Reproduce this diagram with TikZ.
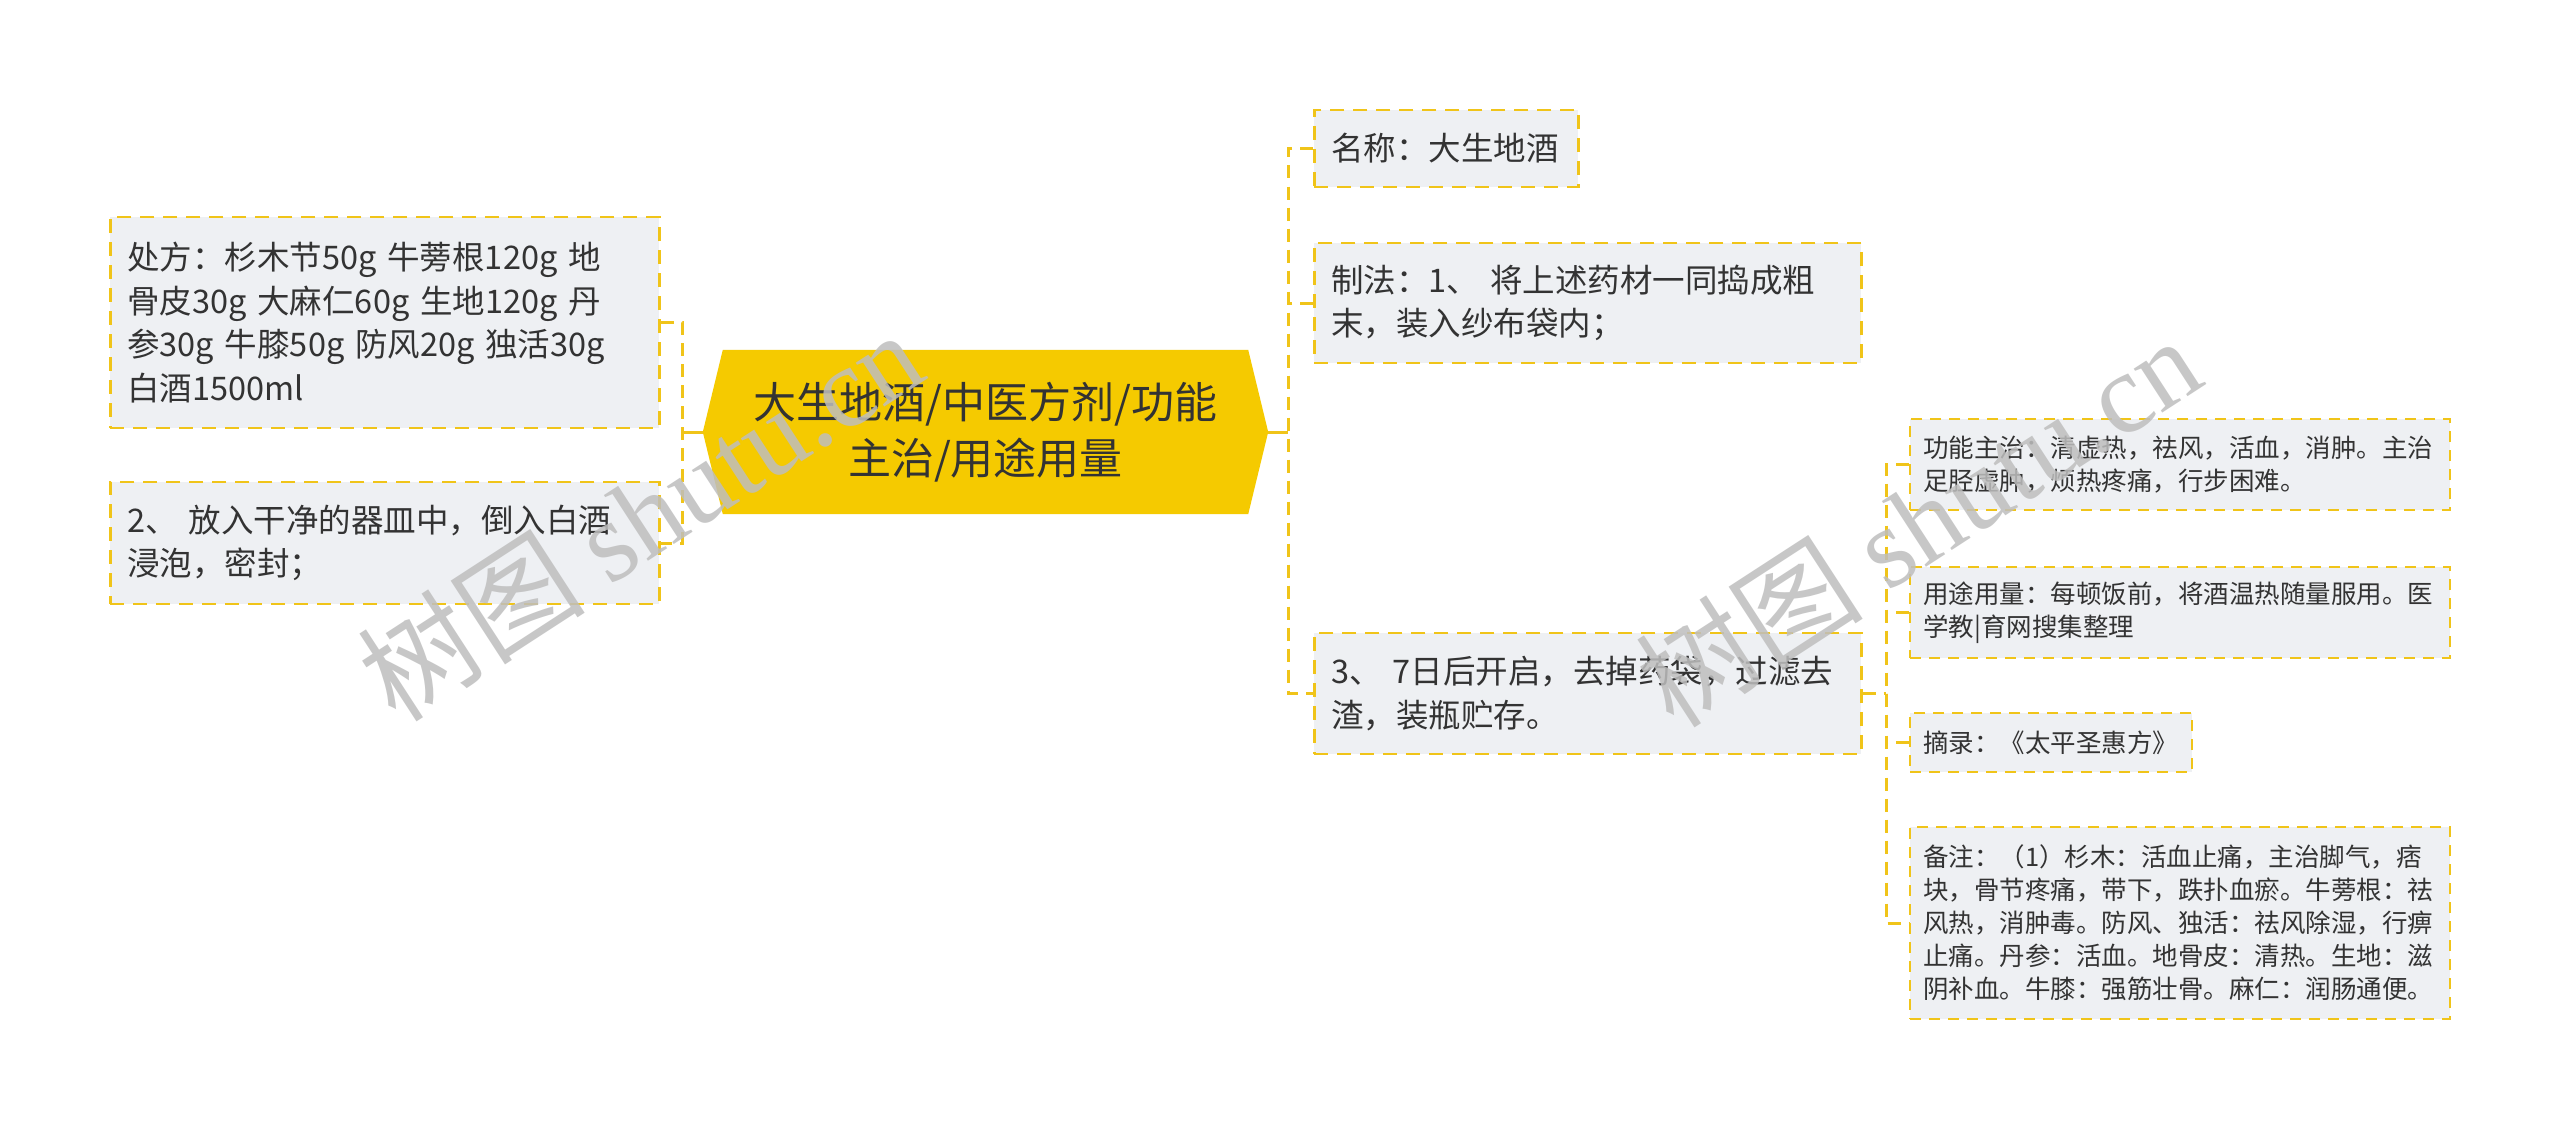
\documentclass[tikz,border=0pt]{standalone}
\usepackage{fontspec}
\setmainfont{Noto Sans CJK SC}
\newfontfamily\cjk{Noto Sans CJK SC}
\newfontfamily\wmfont{Liberation Serif}
\definecolor{boxfill}{HTML}{EEF0F3}
\definecolor{gold}{HTML}{F0C419}
\definecolor{centerfill}{HTML}{F5CA00}
\definecolor{txt}{HTML}{333333}
\definecolor{wmgray}{HTML}{BEBEBE}
\tikzset{
  leafbig/.style={draw=gold, fill=boxfill, line width=2.5pt, dash pattern=on 14pt off 9pt,
    anchor=west, inner xsep=17pt, inner ysep=0pt, align=left, text=txt,
    font=\fontsize{32.5}{43.5}\selectfont},
  leafsmall/.style={draw=gold, fill=boxfill, line width=2.2pt, dash pattern=on 11pt off 8pt,
    anchor=west, inner xsep=13pt, inner ysep=0pt, align=left, text=txt,
    font=\fontsize{25.5}{33}\selectfont},
  conn/.style={draw=gold, line width=3pt, dash pattern=on 13pt off 8pt},
  connsolid/.style={draw=gold, line width=3pt},
  wmark/.style={text=wmgray, opacity=0.85, rotate=33, font=\fontsize{114}{120}\selectfont}
}
\begin{document}
\begin{tikzpicture}[x=1pt, y=-1pt]
\useasboundingbox[fill=white] (0,0) rectangle (2560,1129);

% central topic
\node[minimum width=565pt, minimum height=164pt, inner sep=0pt] (c) at (985.5,432) {};
\fill[centerfill] (c.west) -- ([xshift=20pt]c.north west) -- ([xshift=-20pt]c.north east)
  -- (c.east) -- ([xshift=-20pt]c.south east) -- ([xshift=20pt]c.south west) -- cycle;
\node[align=center, text=txt, font=\fontsize{43}{56}\selectfont] (ct) at (c) {大生地酒/中医方剂/功能\\主治/用途用量};

% left side
\node[leafbig, text width=515pt, minimum height=211pt] (p1) at (109,322.5)
  {处方：杉木节50g~牛蒡根120g~地\\骨皮30g~大麻仁60g~生地120g~丹\\参30g~牛膝50g~防风20g~独活30g\\白酒1500ml};
\node[leafbig, text width=515pt, minimum height=122pt] (p2) at (109,543)
  {2、~放入干净的器皿中，倒入白酒\\浸泡，密封；};

% right side
\node[leafbig, text width=230pt, minimum height=77pt] (n1) at (1313,148.5) {名称：大生地酒};
\node[leafbig, text width=513pt, minimum height=120pt] (n2) at (1313,303)
  {制法：1、~将上述药材一同捣成粗\\末，装入纱布袋内；};
\node[leafbig, text width=513pt, minimum height=121pt] (n3) at (1313,693.5)
  {3、~7日后开启，去掉药袋，过滤去\\渣，装瓶贮存。};

% sub level
\node[leafsmall, text width=514pt, minimum height=91pt] (s1) at (1909,464.5)
  {功能主治：清虚热，祛风，活血，消肿。主治\\足胫虚肿，烦热疼痛，行步困难。};
\node[leafsmall, text width=514pt, minimum height=91pt] (s2) at (1909,612.5)
  {用途用量：每顿饭前，将酒温热随量服用。医\\学教|育网搜集整理};
\node[leafsmall, text width=256pt, minimum height=59pt] (s3) at (1909,742.5)
  {摘录：《太平圣惠方》};
\node[leafsmall, text width=514pt, minimum height=192pt] (s4) at (1909,923)
  {备注：（1）杉木：活血止痛，主治脚气，痞\\块，骨节疼痛，带下，跌扑血瘀。牛蒡根：祛\\风热，消肿毒。防风、独活：祛风除湿，行痹\\止痛。丹参：活血。地骨皮：清热。生地：滋\\阴补血。牛膝：强筋壮骨。麻仁：润肠通便。};

% junctions
\coordinate (lj) at (682,432);
\coordinate (rj) at (1288,432);
\coordinate (sj) at (1886,693.5);

% connectors
\draw[connsolid] (c.west) -- (lj);
\draw[conn] (p1.east) -| (lj) |- (p2.east);
\draw[connsolid] (c.east) -- (rj);
\draw[conn] (n1.west) -| (rj) |- (n3.west);
\draw[conn] (n2.west) -- (n2.west -| rj);
\draw[conn] (n3.east) -- (sj);
\draw[conn] (s1.west) -| (sj) |- (s4.west);
\draw[conn] (s2.west) -- (s2.west -| sj);
\draw[conn] (s3.west) -- (s3.west -| sj);

% watermarks
\node[wmark] (wm1) at (640,515) {{\cjk 树图}~\wmfont shutu.cn};
\node[wmark] (wm2) at (1918,521) {{\cjk 树图}~\wmfont shutu.cn};
\end{tikzpicture}
\end{document}
